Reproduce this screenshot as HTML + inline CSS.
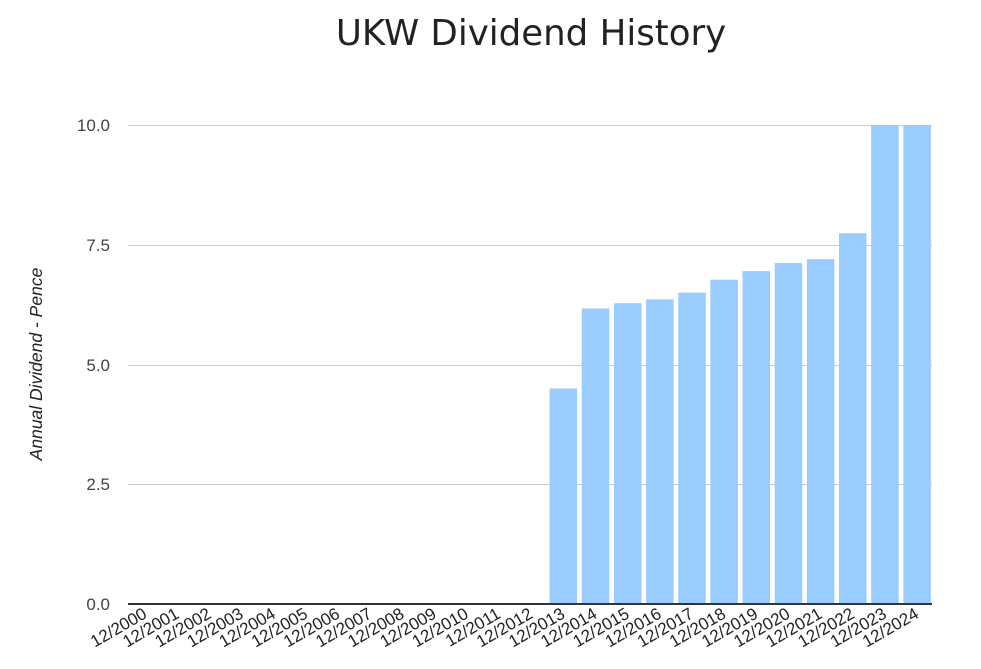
<!DOCTYPE html>
<html><head><meta charset="utf-8"><style>body{margin:0;background:#fff}svg{display:block}</style></head><body>
<svg width="981" height="669" xmlns="http://www.w3.org/2000/svg" font-family="Liberation Sans, sans-serif">
<text x="531" y="45" font-size="35.6" fill="#222" text-anchor="middle" font-family="DejaVu Sans, sans-serif">UKW Dividend History</text>
<g stroke="#ccc" stroke-width="1">
<line x1="128" x2="932" y1="125.5" y2="125.5"/><line x1="128" x2="932" y1="245.5" y2="245.5"/><line x1="128" x2="932" y1="365.5" y2="365.5"/><line x1="128" x2="932" y1="484.5" y2="484.5"/>
</g>
<g font-size="17" fill="#444" text-anchor="end">
<text x="110" y="131">10.0</text><text x="110" y="251">7.5</text><text x="110" y="371">5.0</text><text x="110" y="490">2.5</text><text x="110" y="610">0.0</text>
</g>
<text transform="translate(42,364) rotate(-90)" font-size="17.5" font-style="italic" fill="#222" text-anchor="middle">Annual Dividend - Pence</text>
<g fill="#99ccff" transform="translate(1,0)">
<rect x="548.58" y="388.45" width="27.5" height="215.55"/>
<rect x="580.74" y="308.46" width="27.5" height="295.54"/>
<rect x="612.9" y="303.19" width="27.5" height="300.81"/>
<rect x="645.06" y="299.36" width="27.5" height="304.64"/>
<rect x="677.22" y="292.65" width="27.5" height="311.35"/>
<rect x="709.38" y="279.72" width="27.5" height="324.28"/>
<rect x="741.54" y="271.1" width="27.5" height="332.9"/>
<rect x="773.7" y="262.95" width="27.5" height="341.05"/>
<rect x="805.86" y="259.12" width="27.5" height="344.88"/>
<rect x="838.02" y="233.25" width="27.5" height="370.75"/>
<rect x="870.18" y="125" width="27.5" height="479"/>
<rect x="902.34" y="125" width="27.5" height="479"/>
</g>
<line x1="128" x2="932" y1="604" y2="604" stroke="#333" stroke-width="2"/>
<g font-size="17" fill="#222" text-anchor="end">
<text transform="translate(148,617) rotate(-30)">12/2000</text>
<text transform="translate(180.16,617) rotate(-30)">12/2001</text>
<text transform="translate(212.32,617) rotate(-30)">12/2002</text>
<text transform="translate(244.48,617) rotate(-30)">12/2003</text>
<text transform="translate(276.64,617) rotate(-30)">12/2004</text>
<text transform="translate(308.8,617) rotate(-30)">12/2005</text>
<text transform="translate(340.96,617) rotate(-30)">12/2006</text>
<text transform="translate(373.12,617) rotate(-30)">12/2007</text>
<text transform="translate(405.28,617) rotate(-30)">12/2008</text>
<text transform="translate(437.44,617) rotate(-30)">12/2009</text>
<text transform="translate(469.6,617) rotate(-30)">12/2010</text>
<text transform="translate(501.76,617) rotate(-30)">12/2011</text>
<text transform="translate(533.92,617) rotate(-30)">12/2012</text>
<text transform="translate(566.08,617) rotate(-30)">12/2013</text>
<text transform="translate(598.24,617) rotate(-30)">12/2014</text>
<text transform="translate(630.4,617) rotate(-30)">12/2015</text>
<text transform="translate(662.56,617) rotate(-30)">12/2016</text>
<text transform="translate(694.72,617) rotate(-30)">12/2017</text>
<text transform="translate(726.88,617) rotate(-30)">12/2018</text>
<text transform="translate(759.04,617) rotate(-30)">12/2019</text>
<text transform="translate(791.2,617) rotate(-30)">12/2020</text>
<text transform="translate(823.36,617) rotate(-30)">12/2021</text>
<text transform="translate(855.52,617) rotate(-30)">12/2022</text>
<text transform="translate(887.68,617) rotate(-30)">12/2023</text>
<text transform="translate(919.84,617) rotate(-30)">12/2024</text>
</g>
</svg>
</body></html>
